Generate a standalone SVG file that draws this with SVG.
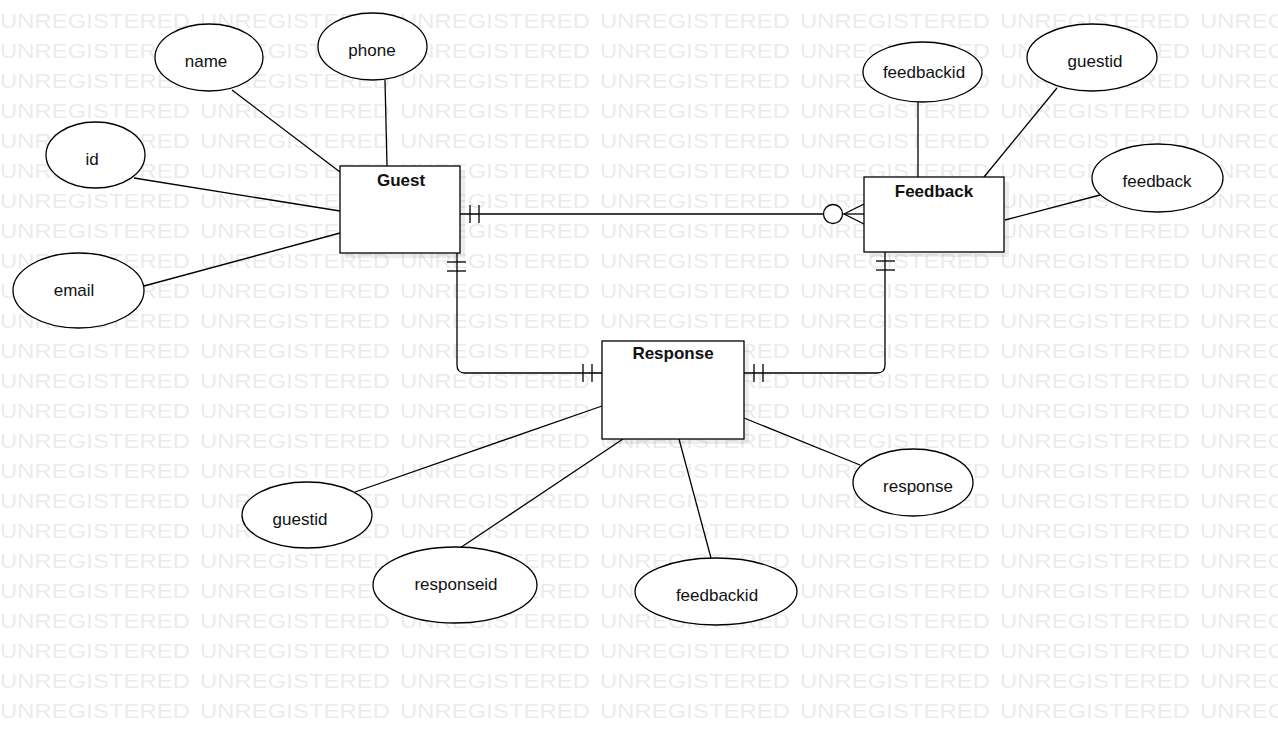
<svg xmlns="http://www.w3.org/2000/svg" width="1278" height="745" viewBox="0 0 1278 745">
  <style>
    .wm { font-family: "Liberation Sans", Arial, sans-serif; font-size: 20px; fill: #ebebeb; }
    .attr ellipse { fill: #fff; stroke: #000; stroke-width: 1.3; }
    .attr text, .entity text { font-family: "Liberation Sans", Arial, sans-serif; font-size: 17px; fill: #111; text-anchor: middle; }
    .entity .box { fill: #fff; stroke: #000; stroke-width: 1.3; }
    .entity .shadow { fill: #000; opacity: 0.07; }
    .entity text { font-weight: bold; }
    .conn line, .conn path, .conn circle { stroke: #000; stroke-width: 1.3; fill: none; }
    .conn circle { fill: #fff; }
  </style>
  <defs>
    <pattern id="watermark" x="0" y="0" width="200" height="30" patternUnits="userSpaceOnUse">
      <text class="wm" x="0" y="28" textLength="190" lengthAdjust="spacingAndGlyphs">UNREGISTERED</text>
    </pattern>
  </defs>

  <rect x="0" y="0" width="1278" height="745" fill="#fff"/>
  <rect x="0" y="0" width="1278" height="724" fill="url(#watermark)"/>

  <!-- connectors -->
  <g id="connectors" class="conn">
    <!-- attribute links -->
    <line x1="232" y1="90" x2="340" y2="172"/>
    <line x1="385" y1="80" x2="387" y2="166"/>
    <line x1="134" y1="178" x2="340" y2="211"/>
    <line x1="144" y1="286" x2="340" y2="233"/>
    <line x1="918" y1="102" x2="918" y2="177"/>
    <line x1="1057" y1="88" x2="984" y2="177"/>
    <line x1="1005" y1="220" x2="1100" y2="195"/>
    <line x1="355" y1="492" x2="602" y2="406"/>
    <line x1="460" y1="548" x2="623" y2="439"/>
    <line x1="711" y1="558" x2="679" y2="439"/>
    <line x1="744" y1="418" x2="860" y2="465"/>

    <!-- Guest to Feedback: one and only one / zero or many -->
    <line x1="460" y1="214" x2="824" y2="214"/>
    <line x1="470" y1="205" x2="470" y2="223"/>
    <line x1="479" y1="205" x2="479" y2="223"/>
    <circle cx="833" cy="214" r="9.5"/>
    <line x1="843" y1="214" x2="864" y2="214"/>
    <line x1="844" y1="214" x2="864" y2="204"/>
    <line x1="844" y1="214" x2="864" y2="224"/>

    <!-- Guest to Response -->
    <path d="M457 253 V365 Q457 373 465 373 H602"/>
    <line x1="447" y1="262" x2="466" y2="262"/>
    <line x1="447" y1="271" x2="466" y2="271"/>
    <line x1="583" y1="364" x2="583" y2="382"/>
    <line x1="592" y1="364" x2="592" y2="382"/>

    <!-- Feedback to Response -->
    <path d="M885 252 V365 Q885 373 877 373 H744"/>
    <line x1="876" y1="261" x2="895" y2="261"/>
    <line x1="876" y1="270" x2="895" y2="270"/>
    <line x1="754" y1="364" x2="754" y2="382"/>
    <line x1="763" y1="364" x2="763" y2="382"/>
  </g>

  <!-- entities -->
  <g id="entity-guest" class="entity">
    <rect class="shadow" x="345" y="171" width="120" height="87"/>
    <rect class="box" x="340" y="166" width="120" height="87"/>
    <text x="401" y="186">Guest</text>
  </g>
  <g id="entity-feedback" class="entity">
    <rect class="shadow" x="869" y="182" width="140" height="75"/>
    <rect class="box" x="864" y="177" width="140" height="75"/>
    <text x="934" y="197">Feedback</text>
  </g>
  <g id="entity-response" class="entity">
    <rect class="shadow" x="607" y="346" width="142" height="98"/>
    <rect class="box" x="602" y="341" width="142" height="98"/>
    <text x="673" y="359">Response</text>
  </g>

  <!-- attributes -->
  <g id="attr-guest-name" class="attr">
    <ellipse cx="209" cy="57.5" rx="54" ry="33.5"/>
    <text x="206" y="67">name</text>
  </g>
  <g id="attr-guest-phone" class="attr">
    <ellipse cx="372.5" cy="46.5" rx="54.5" ry="33.5"/>
    <text x="372" y="56">phone</text>
  </g>
  <g id="attr-guest-id" class="attr">
    <ellipse cx="95.5" cy="155" rx="49.5" ry="33"/>
    <text x="92" y="165">id</text>
  </g>
  <g id="attr-guest-email" class="attr">
    <ellipse cx="78.5" cy="290.5" rx="65.5" ry="37.5"/>
    <text x="74" y="296">email</text>
  </g>
  <g id="attr-feedback-feedbackid" class="attr">
    <ellipse cx="922.5" cy="72" rx="59.5" ry="30"/>
    <text x="924" y="78">feedbackid</text>
  </g>
  <g id="attr-feedback-guestid" class="attr">
    <ellipse cx="1092" cy="57.5" rx="65" ry="33.5"/>
    <text x="1095" y="67">guestid</text>
  </g>
  <g id="attr-feedback-feedback" class="attr">
    <ellipse cx="1157.5" cy="178" rx="65.5" ry="34"/>
    <text x="1157" y="187">feedback</text>
  </g>
  <g id="attr-response-guestid" class="attr">
    <ellipse cx="307" cy="515" rx="65" ry="33"/>
    <text x="300" y="525">guestid</text>
  </g>
  <g id="attr-response-responseid" class="attr">
    <ellipse cx="455" cy="585" rx="82" ry="38"/>
    <text x="456" y="590">responseid</text>
  </g>
  <g id="attr-response-response" class="attr">
    <ellipse cx="913" cy="482.5" rx="60" ry="33.5"/>
    <text x="918" y="492">response</text>
  </g>
  <g id="attr-response-feedbackid" class="attr">
    <ellipse cx="716" cy="591.5" rx="81" ry="33.5"/>
    <text x="717" y="601">feedbackid</text>
  </g>
</svg>
